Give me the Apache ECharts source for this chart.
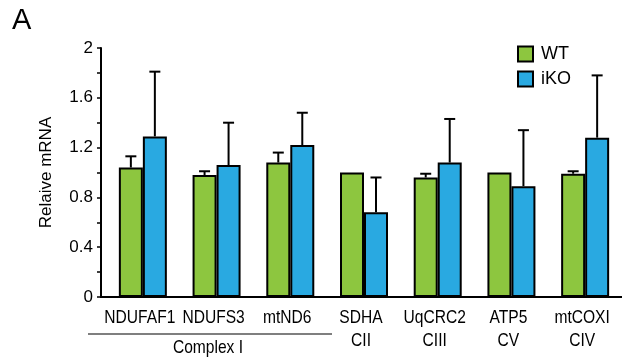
<!DOCTYPE html>
<html><head><meta charset="utf-8">
<script src="https://cdn.jsdelivr.net/npm/echarts@6/dist/echarts.min.js"></script>
<style>html,body{margin:0;padding:0;background:#fff}#c{width:622px;height:360px}</style>
</head><body><div id="c"></div>
<script>
const categories = ['NDUFAF1','NDUFS3','mtND6','SDHA\nCII','UqCRC2\nCIII','ATP5\nCV','mtCOXI\nCIV'];
const wtValues = [1.04, 0.98, 1.08, 1.00, 0.96, 1.00, 0.99];
const wtErrTop = [1.13, 1.01, 1.16, 1.00, 0.99, 1.00, 1.01];
const koValues = [1.29, 1.06, 1.22, 0.68, 1.08, 0.89, 1.28];
const koErrTop = [1.81, 1.40, 1.48, 0.96, 1.43, 1.34, 1.78];
const yTicks = [0, 0.4, 0.8, 1.2, 1.6, 2];

const FONT = 'Liberation Sans';
const GREEN = '#8DC63F', BLUE = '#29A9E1';
const BW = 24;
const SQUEEZE = 0.82;

function errSeries(vals, tops, offset) {
  return {
    type: 'custom',
    z: 1,
    data: vals.map((v, i) => [i, v, tops[i]]),
    encode: { x: 0, y: [1, 2] },
    renderItem: function (params, api) {
      const i = api.value(0);
      const p0 = api.coord([i, api.value(1)]);
      const p1 = api.coord([i, api.value(2)]);
      const x = p0[0] + offset;
      if (Math.abs(p1[1] - p0[1]) < 0.5) return;
      return {
        type: 'group',
        children: [
          { type: 'line', shape: { x1: x, y1: p0[1], x2: x, y2: p1[1] }, style: { stroke: '#000', lineWidth: 2 } },
          { type: 'line', shape: { x1: x - 5.5, y1: p1[1], x2: x + 5.5, y2: p1[1] }, style: { stroke: '#000', lineWidth: 2 } }
        ]
      };
    }
  };
}

// category labels drawn condensed, positioned through the category axis
const labelSeries = {
  type: 'custom',
  silent: true,
  clip: false,
  z: 5,
  data: categories.map((c, i) => [i, 0]),
  encode: { x: 0, y: 1 },
  renderItem: function (params, api) {
    const i = api.value(0);
    const p = api.coord([i, 0]);
    return {
      type: 'text',
      x: p[0] - 3, y: p[1] + 9,
      scaleX: SQUEEZE, scaleY: 1,
      style: {
        text: categories[i],
        fontSize: 19, fontFamily: FONT,
        fill: '#000',
        align: 'center', verticalAlign: 'top',
        lineHeight: 23.5
      }
    };
  }
};

const chart = echarts.init(document.getElementById('c'));
chart.setOption({
  animation: false,
  backgroundColor: '#fff',
  textStyle: { fontFamily: FONT },
  grid: { left: 106, right: 0, top: 48, bottom: 63 },
  legend: {
    left: 517, top: 45, padding: 0, orient: 'vertical', itemWidth: 15, itemHeight: 15, itemGap: 7,
    icon: 'rect',
    textStyle: { fontSize: 18, color: '#000', fontFamily: FONT, padding: [0, 0, 0, 3] },
    data: ['WT', 'iKO']
  },
  xAxis: {
    type: 'category', data: categories,
    axisLine: { lineStyle: { color: '#000', width: 2 } },
    axisTick: { show: false },
    axisLabel: { show: false }
  },
  yAxis: {
    type: 'value', min: 0, max: 2, interval: 0.4, offset: 5,
    name: 'Relaive mRNA', nameLocation: 'middle', nameGap: 46,
    nameTextStyle: { color: '#000', fontSize: 17, fontFamily: FONT },
    axisLine: { show: true, lineStyle: { color: '#000', width: 2 } },
    axisTick: { show: true, length: 4, lineStyle: { color: '#000', width: 1.5 } },
    minorTick: { show: true, splitNumber: 2, length: 4, lineStyle: { color: '#000', width: 1.5 } },
    splitLine: { show: false },
    axisLabel: { color: '#000', fontSize: 17, fontFamily: FONT, margin: 8,
      formatter: v => (yTicks.includes(Math.round(v * 10) / 10) ? String(Math.round(v * 10) / 10) : '') }
  },
  series: [
    { name: 'WT', type: 'bar', data: wtValues, barWidth: BW, barGap: '0%', z: 2,
      itemStyle: { color: GREEN, borderColor: '#000', borderWidth: 2 } },
    { name: 'iKO', type: 'bar', data: koValues, barWidth: BW, barGap: '0%', z: 2,
      itemStyle: { color: BLUE, borderColor: '#000', borderWidth: 2 } },
    errSeries(wtValues, wtErrTop, -BW / 2),
    errSeries(koValues, koErrTop, BW / 2),
    labelSeries
  ],
  graphic: [
    { type: 'text', left: 12, top: 6, style: { text: 'A', fontSize: 29, fontFamily: FONT, fill: '#000' } },
    { type: 'line', shape: { x1: 100, y1: 297, x2: 108, y2: 297 }, style: { stroke: '#000', lineWidth: 2 } },
    { type: 'line', shape: { x1: 88, y1: 334, x2: 332, y2: 334 }, style: { stroke: '#000', lineWidth: 1.2 } },
    { type: 'text', x: 208, y: 348, scaleX: SQUEEZE, originX: 0, originY: 0, style: { text: 'Complex I', fontSize: 19, fontFamily: FONT, fill: '#000', align: 'center', verticalAlign: 'middle' } }
  ]
});
</script></body></html>
